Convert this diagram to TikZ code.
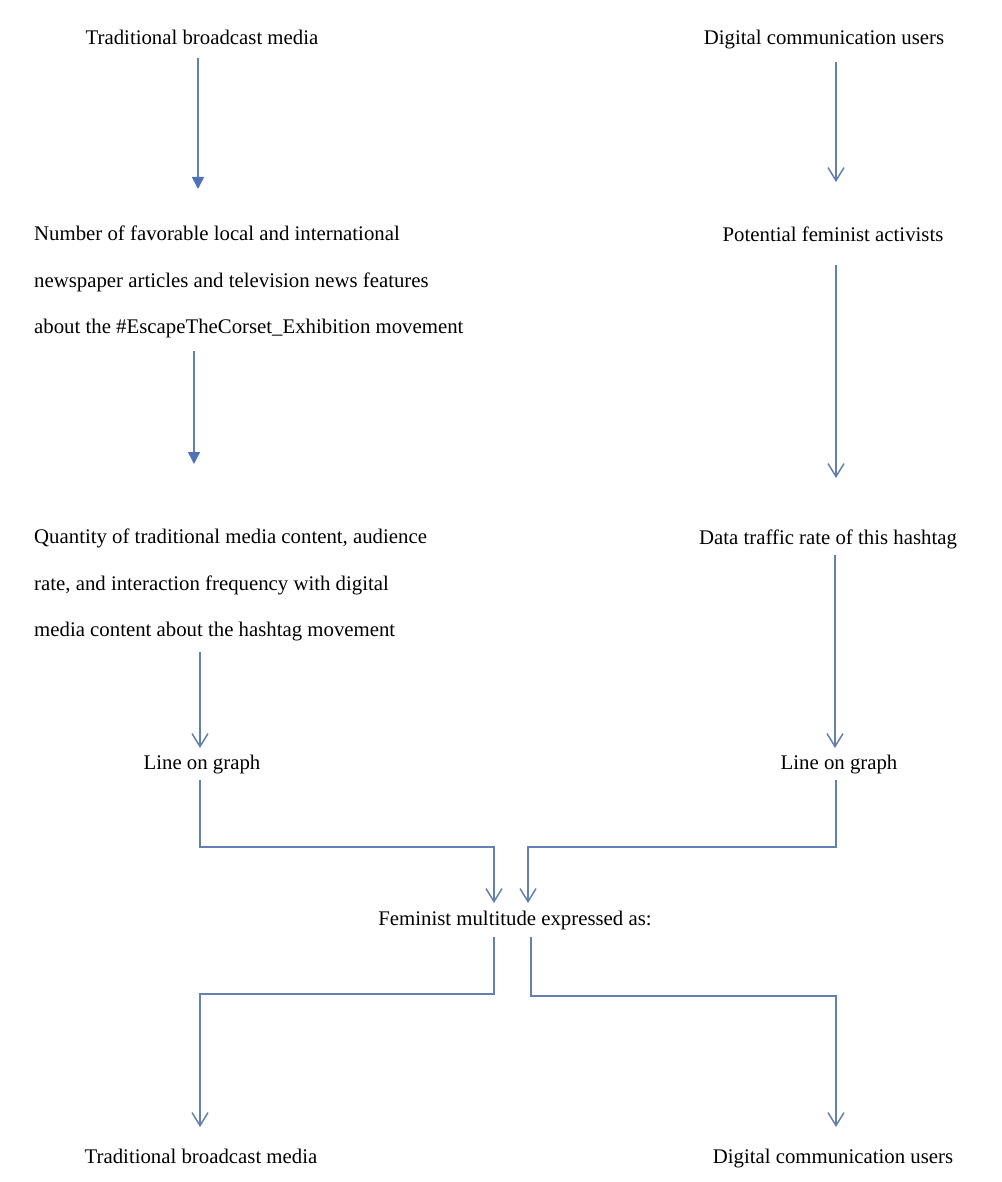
\documentclass[tikz,border=0pt]{standalone}
\usepackage{fontspec}
\setmainfont{Liberation Serif}
\usetikzlibrary{arrows.meta}
\definecolor{lnc}{RGB}{100,128,176}
\definecolor{tipc}{RGB}{79,114,184}
\begin{document}
\begin{tikzpicture}[x=1pt,y=-1pt,
  txt/.style={inner sep=0pt,font=\fontsize{20.8}{46.5}\selectfont},
  lbl/.style={txt,text height=14.5pt,text depth=4.5pt},
  blk/.style={txt,align=left,anchor=west},
  conn/.style={draw=lnc,line width=1.5pt},
  filled/.style={conn,-{Triangle[length=12pt,width=12pt,fill=tipc,color=tipc]}},
  openv/.style={conn,-{Straight Barb[length=13pt,width=16pt,line width=1.5pt]}}]
\useasboundingbox (0,0) rectangle (1001,1182);
% nodes
\node[lbl] (t1) at (202,40) {Traditional broadcast media};
\node[lbl] (d1) at (824,40) {Digital communication users};
\node[blk] (b1) at (34,282) {Number of favorable local and international\\newspaper articles and television news features\\about the \#EscapeTheCorset\_Exhibition movement};
\node[lbl] (p1) at (833,236) {Potential feminist activists};
\node[blk] (b2) at (34,585) {Quantity of traditional media content, audience\\rate, and interaction frequency with digital\\media content about the hashtag movement};
\node[lbl] (dt) at (828,539) {Data traffic rate of this hashtag};
\node[lbl] (lg1) at (202,764) {Line on graph};
\node[lbl] (lg2) at (839,764) {Line on graph};
\node[lbl] (fm) at (515,920) {Feminist multitude expressed as:};
\node[lbl] (t2) at (201,1158) {Traditional broadcast media};
\node[lbl] (d2) at (833,1158) {Digital communication users};
% connector points
\coordinate (a1s) at (198,58);  \coordinate (a1e) at (198,189);
\coordinate (a2s) at (836,62);  \coordinate (a2e) at (836,182);
\coordinate (a3s) at (194,351); \coordinate (a3e) at (194,464);
\coordinate (a4s) at (836,265); \coordinate (a4e) at (836,478);
\coordinate (a5s) at (200,652); \coordinate (a5e) at (200,748);
\coordinate (a6s) at (835,555); \coordinate (a6e) at (835,748);
\coordinate (c1s) at (200,780); \coordinate (c1e) at (494,903);
\coordinate (c2s) at (836,780); \coordinate (c2e) at (528,903);
\coordinate (c3s) at (494,937); \coordinate (c3e) at (200,1127);
\coordinate (c4s) at (531,937); \coordinate (c4e) at (836,1127);
% connectors
\draw[filled] (a1s) -- (a1e);
\draw[openv] (a2s) -- (a2e);
\draw[filled] (a3s) -- (a3e);
\draw[openv] (a4s) -- (a4e);
\draw[openv] (a5s) -- (a5e);
\draw[openv] (a6s) -- (a6e);
\draw[openv] (c1s) -- (200,847) -- (494,847) -- (c1e);
\draw[openv] (c2s) -- (836,847) -- (528,847) -- (c2e);
\draw[openv] (c3s) -- (494,994) -- (200,994) -- (c3e);
\draw[openv] (c4s) -- (531,996) -- (836,996) -- (c4e);
\end{tikzpicture}
\end{document}
